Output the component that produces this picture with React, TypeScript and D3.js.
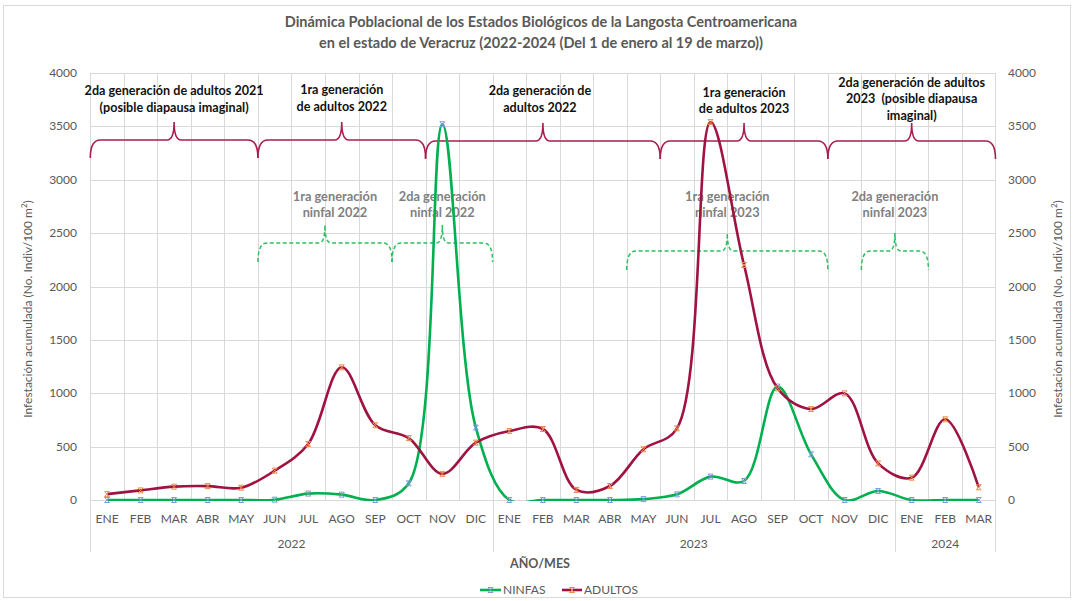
import { useEffect, useRef } from "react";
import * as d3 from "d3";

const MONTHS = [
  "ENE", "FEB", "MAR", "ABR", "MAY", "JUN", "JUL", "AGO", "SEP", "OCT", "NOV", "DIC",
  "ENE", "FEB", "MAR", "ABR", "MAY", "JUN", "JUL", "AGO", "SEP", "OCT", "NOV", "DIC",
  "ENE", "FEB", "MAR",
];
const YEARS = ["2022", "2023", "2024"];
const YEAR_STARTS = [0, 12, 24, 27];

const NINFAS = [0, 0, 0, 0, 0, 3, 60, 50, 0, 156, 3520, 678, 0, 0, 0, 0, 8, 53, 219, 178, 1062, 428, 0, 84, 0, 0, 0];
const ADULTOS = [55, 90, 125, 130, 115, 275, 525, 1243, 700, 580, 245, 537, 646, 665, 94, 131, 475, 671, 3540, 2201, 1046, 852, 999, 343, 209, 756, 119];

const Y_TICKS = [0, 500, 1000, 1500, 2000, 2500, 3000, 3500, 4000];

const ADULT_NOTES = [
  ["2da generación de adultos 2021", "(posible diapausa imaginal)"],
  ["1ra generación", "de adultos 2022"],
  ["2da generación de", "adultos 2022"],
  ["1ra generación", "de adultos 2023"],
  ["2da generación de adultos", "2023  (posible diapausa", "imaginal)"],
];
const ADULT_SPANS = [[0, 5], [5, 10], [10, 17], [17, 22], [22, 27]];

const NYMPH_NOTES = [
  ["1ra generación", "ninfal 2022"],
  ["2da generación", "ninfal 2022"],
  ["1ra generación", "ninfal 2023"],
  ["2da generación", "ninfal 2023"],
];
const NYMPH_SPANS = [[5, 9], [9, 12], [16, 22], [23, 25]];

const W = 1074;
const H = 601;
const FONT = "Lato, 'Open Sans', sans-serif";
const GREEN = "#00B050";
const RED = "#A0123F";

function bracePath(x0: number, x1: number, yh: number, yb: number, yt: number, r: number, rt: number) {
  const xt = (x0 + x1) / 2;
  return `M${x0},${yb} Q${x0},${yh} ${x0 + r},${yh} L${xt - rt},${yh} Q${xt},${yh} ${xt},${yt} Q${xt},${yh} ${xt + rt},${yh} L${x1 - r},${yh} Q${x1},${yh} ${x1},${yb}`;
}

function markerPath(cx: number, cy: number, s: number) {
  return `M${cx - s},${cy - s}L${cx + s},${cy + s}M${cx - s},${cy + s}L${cx + s},${cy - s}M${cx - s},${cy - s}L${cx + s},${cy - s}M${cx - s},${cy + s}L${cx + s},${cy + s}`;
}

export default function App() {
  const ref = useRef<SVGSVGElement | null>(null);

  useEffect(() => {
    const svg = d3.select(ref.current);
    svg.selectAll("*").remove();

    const left = 90.3;
    const right = 995.5;
    const top = 73;
    const bottom = 500;

    const x = d3.scaleBand<number>().domain(d3.range(MONTHS.length)).range([left, right]).padding(0);
    const bw = x.bandwidth();
    const edge = (i: number) => left + i * bw;
    const cx = (i: number) => (x(i) as number) + bw / 2;
    const y = d3.scaleLinear().domain([0, 4000]).range([bottom, top]);

    svg.append("rect").attr("width", W).attr("height", H).attr("fill", "#fff");
    svg.append("rect")
      .attr("x", 3.5).attr("y", 5.5).attr("width", W - 7).attr("height", H - 9)
      .attr("fill", "none").attr("stroke", "#D9D9D9");

    svg.append("clipPath").attr("id", "plot-clip")
      .append("rect").attr("x", left - 5).attr("y", top - 5).attr("width", right - left + 10).attr("height", bottom - top + 6);

    // grid
    const grid = svg.append("g").attr("stroke", "#D9D9D9").attr("stroke-width", 1);
    Y_TICKS.forEach((t) => {
      grid.append("line").attr("x1", left).attr("x2", right).attr("y1", Math.round(y(t)) + 0.5).attr("y2", Math.round(y(t)) + 0.5);
    });
    d3.range(MONTHS.length + 1).forEach((i) => {
      grid.append("line").attr("x1", Math.round(edge(i)) + 0.5).attr("x2", Math.round(edge(i)) + 0.5).attr("y1", top).attr("y2", bottom);
    });
    YEAR_STARTS.forEach((i) => {
      grid.append("line").attr("x1", Math.round(edge(i)) + 0.5).attr("x2", Math.round(edge(i)) + 0.5).attr("y1", bottom).attr("y2", 552);
    });

    // y axis labels
    const tickText = (g: d3.Selection<SVGGElement, unknown, null, undefined>) =>
      g.attr("font-family", FONT).attr("font-size", 12).attr("fill", "#595959");
    const yl = svg.append("g").call(tickText).attr("text-anchor", "end");
    Y_TICKS.forEach((t) => yl.append("text").attr("x", 77).attr("y", y(t) + 4).text(t));
    const yr = svg.append("g").call(tickText).attr("text-anchor", "start");
    Y_TICKS.forEach((t) => yr.append("text").attr("x", 1008).attr("y", y(t) + 4).text(t));

    const axisTitle = (gx: number) => {
      const t = svg.append("text")
        .attr("transform", `translate(${gx},309) rotate(-90)`)
        .attr("text-anchor", "middle")
        .attr("font-family", FONT).attr("font-size", 12).attr("fill", "#595959");
      t.append("tspan").text("Infestación acumulada (No. Indiv/100 m");
      t.append("tspan").attr("font-size", 8).attr("dy", -5).text("2");
      t.append("tspan").attr("dy", 5).text(")");
    };
    axisTitle(32);
    axisTitle(1062);

    // x axis labels
    const xl = svg.append("g").call(tickText).attr("text-anchor", "middle");
    MONTHS.forEach((m, i) => xl.append("text").attr("x", cx(i)).attr("y", 523).text(m));
    YEARS.forEach((yr2, i) => {
      xl.append("text").attr("x", (edge(YEAR_STARTS[i]) + edge(YEAR_STARTS[i + 1])) / 2).attr("y", 548).text(yr2);
    });
    svg.append("text").attr("x", 540).attr("y", 568).attr("text-anchor", "middle")
      .attr("font-family", FONT).attr("font-size", 12.5).attr("font-weight", 700).attr("fill", "#595959")
      .text("AÑO/MES");

    // title
    const title = svg.append("text").attr("text-anchor", "middle").attr("font-family", FONT)
      .attr("font-size", 14.5).attr("font-weight", 700).attr("fill", "#595959");
    title.append("tspan").attr("x", 541).attr("y", 27).text("Dinámica Poblacional de los Estados Biológicos de la Langosta Centroamericana");
    title.append("tspan").attr("x", 541).attr("y", 48).text("en el estado de Veracruz (2022-2024 (Del 1 de enero al 19 de marzo))");

    // nymph braces
    NYMPH_SPANS.forEach(([a, b], i) => {
      const high = i < 2;
      const yh = high ? 243 : 251;
      svg.append("path")
        .attr("d", bracePath(edge(a), edge(b), yh, yh + 19, yh - 18, 9, 6))
        .attr("fill", "none").attr("stroke", "#2EBF5E").attr("stroke-width", 1.5)
        .attr("stroke-dasharray", "4 2.5");
      const tx = (edge(a) + edge(b)) / 2 + (i === 0 ? 10 : 0);
      const t = svg.append("text").attr("text-anchor", "middle").attr("font-family", FONT)
        .attr("font-size", 12.8).attr("font-weight", 700).attr("fill", "#7F7F7F");
      NYMPH_NOTES[i].forEach((line, k) => t.append("tspan").attr("x", tx).attr("y", 200.5 + k * 16.5).text(line));
    });

    // adult braces
    const adultBase = [95, 94, 95, 96.5, 86.5];
    ADULT_SPANS.forEach(([a, b], i) => {
      const yh = i < 2 ? 140 : 141;
      svg.append("path")
        .attr("d", bracePath(edge(a), edge(b), yh, yh + 18, yh - 18, 10, 7))
        .attr("fill", "none").attr("stroke", "#A81E4E").attr("stroke-width", 1.6);
      const tx = (edge(a) + edge(b)) / 2 - (i === 2 ? 3 : 0);
      const t = svg.append("text").attr("text-anchor", "middle").attr("font-family", FONT)
        .attr("font-size", 12.6).attr("font-weight", 700).attr("fill", "#111")
        .attr("xml:space", "preserve").style("white-space", "pre");
      ADULT_NOTES[i].forEach((line, k) => t.append("tspan").attr("x", tx).attr("y", adultBase[i] + k * 16.7).text(line));
    });

    // series
    const line = d3.line<number>().x((_, i) => cx(i)).y((d) => y(d)).curve(d3.curveCatmullRom.alpha(0.5));
    const series = [
      { name: "NINFAS", values: NINFAS, color: GREEN, marker: "#7D9BDB" },
      { name: "ADULTOS", values: ADULTOS, color: RED, marker: "#F08A4B" },
    ];
    series.forEach((s) => {
      svg.append("path").attr("d", line(s.values) as string)
        .attr("clip-path", "url(#plot-clip)")
        .attr("fill", "none").attr("stroke", s.color).attr("stroke-width", 2.6).attr("stroke-linejoin", "round");
      svg.append("g").selectAll("path").data(s.values).enter().append("path")
        .attr("d", (d, i) => markerPath(cx(i), y(d), 2.5))
        .attr("stroke", s.marker).attr("stroke-width", 1).attr("fill", "none");
    });

    // legend
    const legend = [
      { x0: 480, x1: 501, tx: 503 },
      { x0: 562, x1: 582, tx: 584 },
    ];
    series.forEach((s, i) => {
      const L = legend[i];
      svg.append("line").attr("x1", L.x0).attr("x2", L.x1).attr("y1", 590).attr("y2", 590)
        .attr("stroke", s.color).attr("stroke-width", 2.6);
      svg.append("path").attr("d", markerPath((L.x0 + L.x1) / 2, 590, 2.5))
        .attr("stroke", s.marker).attr("stroke-width", 1).attr("fill", "none");
      svg.append("text").attr("x", L.tx).attr("y", 594).attr("font-family", FONT)
        .attr("font-size", 12).attr("fill", "#595959").text(s.name);
    });
  }, []);

  return (
    <svg
      ref={ref}
      width={W}
      height={H}
      style={{ position: "absolute", left: 0, top: 0, display: "block" }}
    />
  );
}
